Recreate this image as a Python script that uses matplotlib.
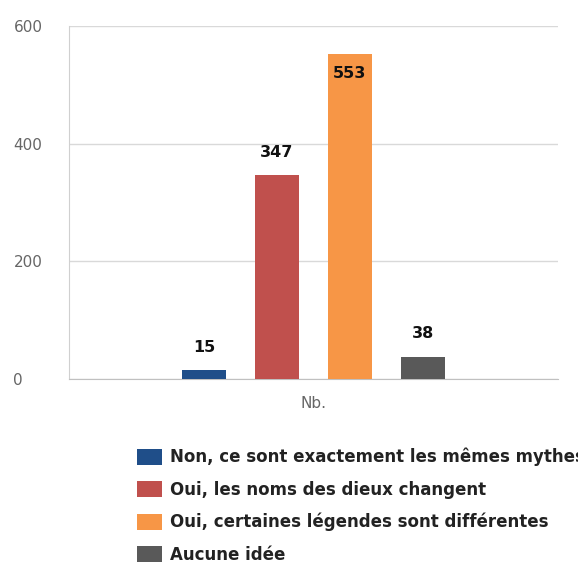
import matplotlib
matplotlib.use("Agg")
import matplotlib.pyplot as plt
from matplotlib.patches import Patch

# data
categories = ["Non, ce sont exactement les mêmes mythes",
              "Oui, les noms des dieux changent",
              "Oui, certaines légendes sont différentes",
              "Aucune idée"]
values = [15, 347, 553, 38]
colors = ["#1f4e89", "#c0504d", "#f79646", "#595959"]
yticks = [0, 200, 400, 600]
group_label = "Nb."

fig = plt.figure(figsize=(5.78, 5.65), dpi=100)
ax = fig.add_axes([69/578, 1-379/565, (558-69)/578, (379-26)/565])

x = list(range(len(values)))
ax.bar(x, values, width=0.6, color=colors, zorder=3)

for xi, v in zip(x, values):
    if v > 500:
        # label sits inside the tallest bar
        ax.annotate(str(v), (xi, v), xytext=(0, -9), textcoords="offset points",
                    ha="center", va="top", fontsize=11.5, fontweight="bold", color="#111111")
    else:
        ax.annotate(str(v), (xi, v), xytext=(0, 11), textcoords="offset points",
                    ha="center", va="bottom", fontsize=11.5, fontweight="bold", color="#111111")

ax.set_xlim(-1.85, 4.85)
ax.set_ylim(0, 600)
ax.set_yticks(yticks)
ax.set_xticks([1.5])
ax.set_xticklabels([group_label])
ax.tick_params(axis="both", length=0, labelsize=11, colors="#666666")
ax.tick_params(axis="x", pad=12)
for lab in ax.get_yticklabels():
    lab.set_horizontalalignment("left")
ax.yaxis.set_tick_params(pad=40)

ax.grid(axis="y", color="#d9d9d9", linewidth=1, zorder=0)
for s in ["top", "right"]:
    ax.spines[s].set_visible(False)
ax.spines["left"].set_color("#d0d0d0")
ax.spines["bottom"].set_color("#c0c0c0")

handles = [Patch(facecolor=c, edgecolor="none") for c in colors]
fig.legend(handles, categories, loc="upper left", bbox_to_anchor=(137/578, 1-448/565),
           frameon=False, prop={"weight": "bold", "size": 12},
           borderpad=0, borderaxespad=0,
           handlelength=1.5, handleheight=1.1, handletextpad=0.5, labelspacing=0.85,
           labelcolor="#222222")

fig.savefig("out.png", dpi=100)
